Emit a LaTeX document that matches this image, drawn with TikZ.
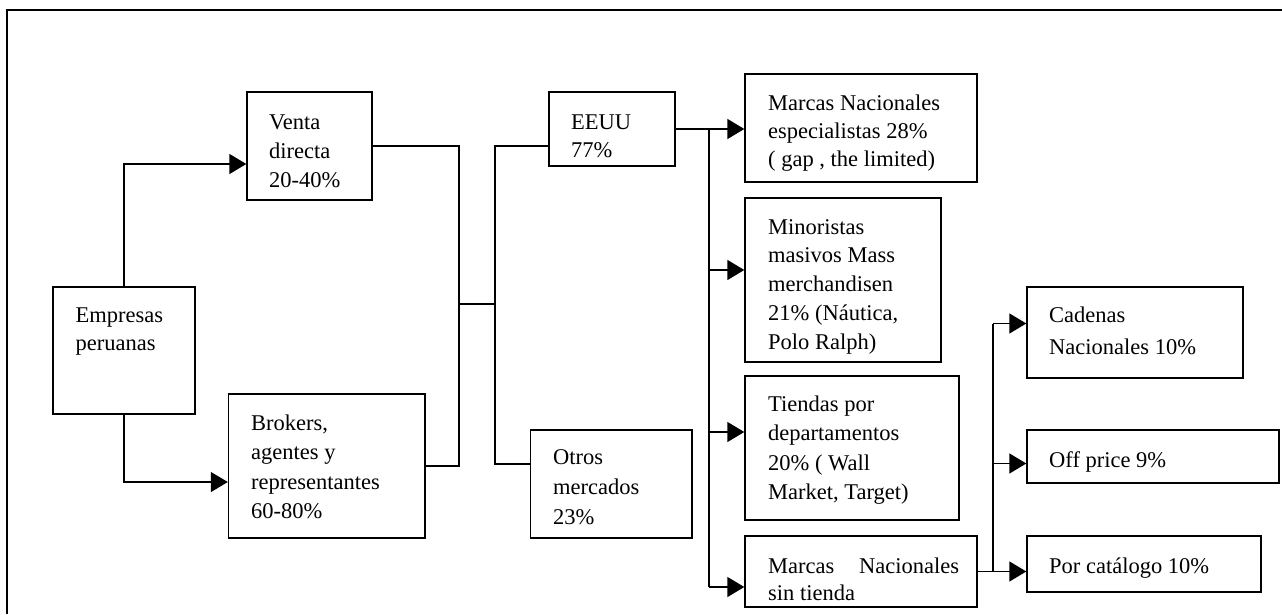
\documentclass[tikz,border=0pt]{standalone}
\usepackage{fontspec}
\setmainfont{Liberation Serif}
\usetikzlibrary{arrows.meta}
\tikzset{
  box/.style={draw, line width=1.4pt, inner sep=0pt},
  txt/.style={anchor=north west, inner sep=0pt, align=left, font=\fontsize{22.5}{#1}\selectfont},
  txt/.default=29,
  conn/.style={line width=1.4pt},
  arr/.style={line width=1.4pt, -{Triangle[length=17pt,width=20pt]}}
}
\newcommand{\st}{\rule{0pt}{20pt}}
\begin{document}
\begin{tikzpicture}[x=1pt,y=-1pt]
\useasboundingbox (0,0) rectangle (1282,614);
% frame
\draw[conn] (7,614) -- (7,10) -- (1282,10);
% boxes
\node[box, minimum width=142pt, minimum height=127pt] (emp) at (124,350.5) {};
\node[box, minimum width=125pt, minimum height=108pt] (venta) at (309.5,146) {};
\node[box, minimum width=196.5pt, minimum height=144pt] (brok) at (326.75,466) {};
\node[box, minimum width=126pt, minimum height=74pt] (eeuu) at (612,129) {};
\node[box, minimum width=161.5pt, minimum height=108pt] (otros) at (611.25,484) {};
\node[box, minimum width=232pt, minimum height=108pt] (mnesp) at (861,128) {};
\node[box, minimum width=196pt, minimum height=164pt] (minor) at (843,280) {};
\node[box, minimum width=214pt, minimum height=144pt] (tiend) at (852,448) {};
\node[box, minimum width=232pt, minimum height=71pt] (mnsin) at (861,571.5) {};
\node[box, minimum width=216pt, minimum height=91pt] (caden) at (1135,332.5) {};
\node[box, minimum width=252pt, minimum height=53pt] (offp) at (1153,456.5) {};
\node[box, minimum width=234pt, minimum height=56pt] (porcat) at (1144,564) {};
% texts (node top = first baseline - 20)
\node[txt=27.5] (tEmp) at (75.5,302.5) {\st Empresas\\peruanas};
\node[txt=29] (tVenta) at (269,109) {\st Venta\\directa\\20-40\%};
\node[txt=29.5] (tBrok) at (251,410) {\st Brokers,\\agentes y\\representantes\\60-80\%};
\node[txt=28] (tEeuu) at (571,109) {\st EEUU\\77\%};
\node[txt=30] (tOtros) at (553,444) {\st Otros\\mercados\\23\%};
\node[txt=28] (tMnesp) at (768,90) {\st Marcas Nacionales\\especialistas 28\%\\( gap , the limited)};
\node[txt=28.75] (tMinor) at (768,214) {\st Minoristas\\masivos Mass\\merchandisen\\21\% (Náutica,\\Polo Ralph)};
\node[txt=29.5] (tTiend) at (768,391) {\st Tiendas por\\departamentos\\20\% ( Wall\\Market, Target)};
\node[txt=27.5] (tMnsin) at (768,553) {\st\makebox[191pt][s]{Marcas\hfill Nacionales}\\sin tienda};
\node[txt=32] (tCaden) at (1049,302) {\st Cadenas\\Nacionales 10\%};
\node[txt] (tOffp) at (1049,447) {\st Off price 9\%};
\node[txt] (tPorcat) at (1049,553) {\st Por catálogo 10\%};
% junction coordinates
\coordinate (j1) at (459,304);
\coordinate (j2) at (495,304);
\coordinate (bus1) at (709,129);
\coordinate (bus2) at (993,571.5);
\coordinate (aMinor) at ([yshift=10pt]minor.west);
\coordinate (aTiend) at ([yshift=16pt]tiend.west);
\coordinate (aMnsin) at ([yshift=-15.5pt]mnsin.west);
\coordinate (aCaden) at ([yshift=9pt]caden.west);
\coordinate (aOffp) at ([yshift=-7pt]offp.west);
% connectors
\draw[arr] (emp.north) |- ([yshift=-18pt]venta.west);
\draw[arr] (emp.south) |- ([yshift=-16pt]brok.west);
\draw[conn] (venta.east) -| (j1);
\draw[conn] (brok.east) -| (j1);
\draw[conn] (j1) -- (j2);
\draw[conn] ([yshift=-17pt]eeuu.west) -| (j2);
\draw[conn] (j2) |- ([yshift=20pt]otros.west);
\draw[arr] (eeuu.east) -- (eeuu.east -| mnesp.west);
\draw[conn] (bus1) -- (bus1 |- aMnsin);
\draw[arr] (bus1 |- aMinor) -- (aMinor);
\draw[arr] (bus1 |- aTiend) -- (aTiend);
\draw[arr] (bus1 |- aMnsin) -- (aMnsin);
\draw[arr] (mnsin.east) -- (mnsin.east -| porcat.west);
\draw[conn] (bus2) -- (bus2 |- aCaden);
\draw[arr] (bus2 |- aCaden) -- (aCaden);
\draw[arr] (bus2 |- aOffp) -- (aOffp);
\end{tikzpicture}
\end{document}
